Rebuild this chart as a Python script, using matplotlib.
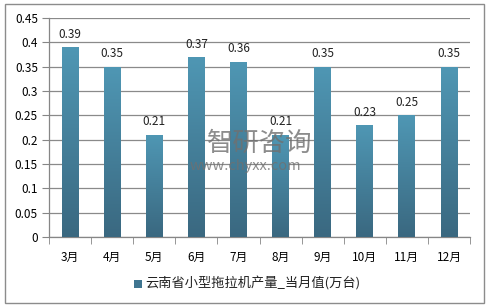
import matplotlib.pyplot as plt
import numpy as np
from matplotlib.colors import LinearSegmentedColormap
from matplotlib.patches import Rectangle

plt.rcParams['font.family'] = ['Noto Sans CJK SC', 'DejaVu Sans']

months = ['3月', '4月', '5月', '6月', '7月', '8月', '9月', '10月', '11月', '12月']
output = [0.39, 0.35, 0.21, 0.37, 0.36, 0.21, 0.35, 0.23, 0.25, 0.35]
series_name = '云南省小型拖拉机产量_当月值(万台)'

W, H = 489, 307
fig = plt.figure(figsize=(W / 100, H / 100), dpi=100)
ax = fig.add_axes([49 / W, (H - 237) / H, 421 / W, (237 - 18) / H])

# outer frame
fig.patches.append(Rectangle((5 / W, 4 / H), 479 / W, 299 / H, transform=fig.transFigure,
                             fill=False, edgecolor='#8c8c8c', linewidth=1))

x = np.arange(len(months))
bw = 0.4
bars = ax.bar(x, output, width=bw, color='none', zorder=3)

# vertical gradient in every bar
cmap = LinearSegmentedColormap.from_list('g', ['#3a6880', '#4f97b4'])
grad = np.linspace(0, 1, 256).reshape(-1, 1)
for b in bars:
    im = ax.imshow(grad, cmap=cmap, aspect='auto', origin='lower', zorder=3,
                   extent=[b.get_x(), b.get_x() + b.get_width(), 0, b.get_height()])
    im.set_clip_path(b)
    ax.text(b.get_x() + b.get_width() / 2, b.get_height() + 0.013, f'{b.get_height():.2f}',
            ha='center', va='bottom', fontsize=8.5, color='#222222', zorder=4)

ax.set_xlim(-0.5, len(months) - 0.5)
ax.set_ylim(0, 0.45)
ax.set_yticks(np.arange(0, 0.451, 0.05))
ax.set_yticklabels(['0', '0.05', '0.1', '0.15', '0.2', '0.25', '0.3', '0.35', '0.4', '0.45'])
ax.set_xticks(x)
ax.set_xticklabels(months)
ax.set_xticks(np.arange(-0.5, len(months)), minor=True)
ax.tick_params(axis='x', which='major', length=0, pad=10, labelsize=8.5)
ax.tick_params(axis='x', which='minor', length=5, color='#868686', direction='out')
ax.tick_params(axis='y', length=5, color='#868686', labelsize=8.5, pad=3)
ax.grid(axis='y', color='#8a8a8a', linewidth=0.9, zorder=0)
ax.set_axisbelow(True)
for s in ['top', 'right']:
    ax.spines[s].set_visible(False)
for s in ['left', 'bottom']:
    ax.spines[s].set_color('#868686')
    ax.spines[s].set_linewidth(0.9)

# legend
fig.patches.append(Rectangle((134 / W, (H - 288) / H), 8 / W, 8 / H, transform=fig.transFigure,
                             facecolor='#3f7590', edgecolor='none'))
fig.text(145 / W, (H - 284) / H, series_name, fontsize=9.5, va='center', ha='left', color='#222222')

# watermark
fig.text(260 / W, (H - 143) / H, '智研咨询', fontsize=19, ha='center', va='center',
         color='#707070', alpha=0.8, zorder=10)
fig.text(245 / W, (H - 166) / H, 'www.chyxx.com', fontsize=10.5, ha='center', va='center',
         color='#707070', alpha=0.8, zorder=10)

fig.savefig('out.png', dpi=100)
